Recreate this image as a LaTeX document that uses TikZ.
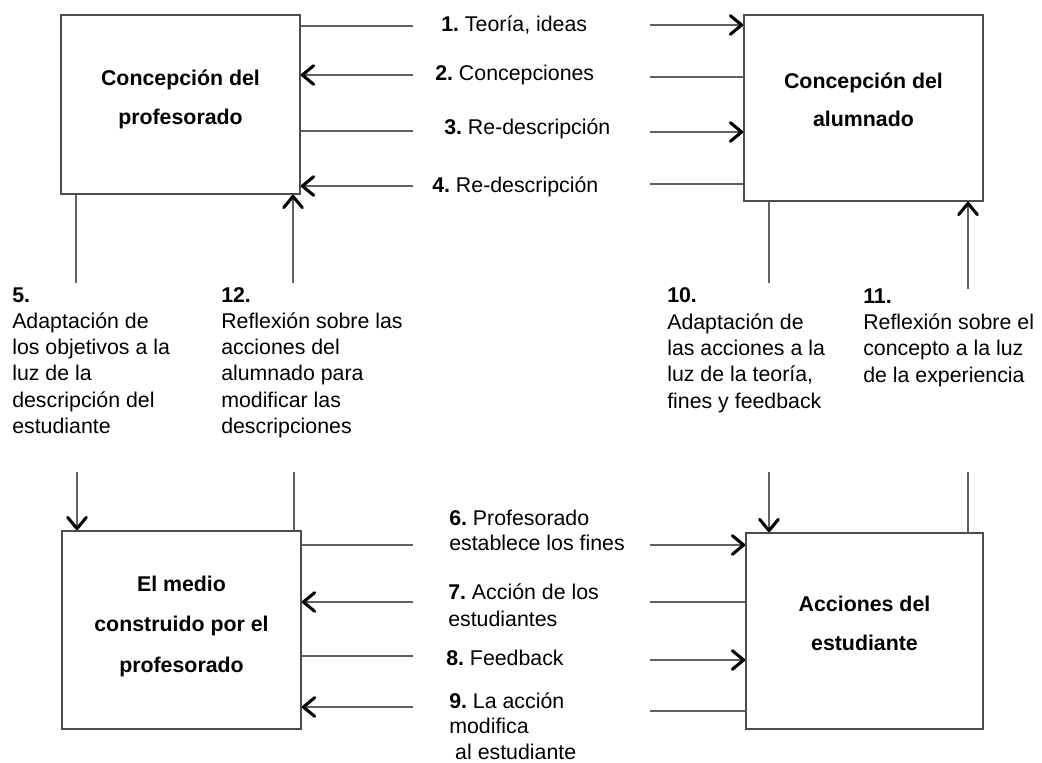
\documentclass[tikz,border=0pt]{standalone}
\usepackage{fontspec}
\setmainfont{Liberation Sans}
\frenchspacing
\usetikzlibrary{arrows.meta}
\definecolor{boxline}{gray}{0.30}
\definecolor{connline}{gray}{0.38}
\tikzset{
  stage/.style={draw=boxline, line width=1.2pt, fill=white, inner sep=0pt},
  stagetext/.style={font=\bfseries\fontsize{16}{29}\selectfont, align=center, anchor=base, inner sep=0pt},
  lbl/.style={font=\fontsize{16}{19.7}\selectfont, align=left, anchor=base west, inner sep=0pt},
  conn/.style={draw=connline, line width=1pt},
  flow/.style={conn, -{Straight Barb[length=8.5pt, width=14pt, line width=2.3pt, line cap=round, line join=round, color=black]}}
}
\begin{document}
\begin{tikzpicture}[x=0.75pt, y=-0.75pt]
\useasboundingbox[fill=white] (0,0) rectangle (1042,763);

% the four stages
\node[stage, minimum width=179.25pt, minimum height=134.25pt] (tl) at (180.5,104.5) {};
\node[stage, minimum width=179.25pt, minimum height=139.5pt] (tr) at (863.5,108) {};
\node[stage, minimum width=179.25pt, minimum height=148.5pt] (bl) at (181.5,630) {};
\node[stage, minimum width=177.75pt, minimum height=147pt] (br) at (864.5,631) {};

% stage titles (placed by the baseline of their last line)
\node[stagetext] (tlt) at (180.5,124.5) {Concepción del\\profesorado};
\node[stagetext] (trt) at (863.5,127) {Concepción del\\alumnado};
\node[stagetext, font=\bfseries\fontsize{16}{30.3}\selectfont] (blt) at (181.5,672) {El medio\\construido por el\\profesorado};
\node[stagetext] (brt) at (864.5,650.5) {Acciones del\\estudiante};

% free ends of the horizontal connectors
\coordinate (h1a) at (413,26);  \coordinate (h1b) at (650,25);
\coordinate (h2a) at (413,75);  \coordinate (h2b) at (650,77);
\coordinate (h3a) at (413,131); \coordinate (h3b) at (650,132);
\coordinate (h4a) at (413,186); \coordinate (h4b) at (650,184);
\coordinate (h6a) at (413,545); \coordinate (h6b) at (650,545);
\coordinate (h7a) at (413,602); \coordinate (h7b) at (650,602);
\coordinate (h8a) at (413,656); \coordinate (h8b) at (650,660);
\coordinate (h9a) at (413,707); \coordinate (h9b) at (650,711);

% free ends of the vertical connectors
\coordinate (v5a) at (76,283);   \coordinate (v5b) at (77,472);
\coordinate (v12a) at (293,283); \coordinate (v12b) at (294,472);
\coordinate (v10a) at (769,283); \coordinate (v10b) at (769,472);
\coordinate (v11a) at (968,289); \coordinate (v11b) at (968,472);

% upper exchanges
\draw[conn] (tl.east |- h1a) -- (h1a);
\draw[flow] (h1b) -- (tr.west |- h1b);
\draw[flow] (h2a) -- (tl.east |- h2a);
\draw[conn] (tr.west |- h2b) -- (h2b);
\draw[conn] (tl.east |- h3a) -- (h3a);
\draw[flow] (h3b) -- (tr.west |- h3b);
\draw[flow] (h4a) -- (tl.east |- h4a);
\draw[conn] (tr.west |- h4b) -- (h4b);

% lower exchanges
\draw[conn] (bl.east |- h6a) -- (h6a);
\draw[flow] (h6b) -- (br.west |- h6b);
\draw[flow] (h7a) -- (bl.east |- h7a);
\draw[conn] (br.west |- h7b) -- (h7b);
\draw[conn] (bl.east |- h8a) -- (h8a);
\draw[flow] (h8b) -- (br.west |- h8b);
\draw[flow] (h9a) -- (bl.east |- h9a);
\draw[conn] (br.west |- h9b) -- (h9b);

% vertical links
\draw[conn] (tl.south -| v5a) -- (v5a);
\draw[flow] (v5b) -- (bl.north -| v5b);
\draw[flow] (v12a) -- (tl.south -| v12a);
\draw[conn] (v12b) -- (bl.north -| v12b);
\draw[conn] (tr.south -| v10a) -- (v10a);
\draw[flow] (v10b) -- (br.north -| v10b);
\draw[flow] (v11a) -- (tr.south -| v11a);
\draw[conn] (v11b) -- (br.north -| v11b);

% labels of the horizontal links (anchored at the baseline of the last line)
\node[lbl] (l1) at (441,32) {\textbf{1.} Teoría, ideas};
\node[lbl] (l2) at (435,81) {\textbf{2.} Concepciones};
\node[lbl] (l3) at (444,135) {\textbf{3.} Re-descripción};
\node[lbl] (l4) at (432,192) {\textbf{4.} Re-descripción};
\node[lbl, font=\fontsize{16}{18.75}\selectfont] (l6) at (449,550) {\textbf{6.} Profesorado\\establece los fines};
\node[lbl] (l7) at (448,626) {\textbf{7.} Acción de los\\estudiantes};
\node[lbl] (l8) at (446,665) {\textbf{8.} Feedback};
\node[lbl, font=\fontsize{16}{19}\selectfont] (l9) at (449,759) {\textbf{9.} La acción\\modifica\\\hspace{0.28em}al estudiante};

% labels of the vertical links
\node[lbl] (l5) at (12,433.5) {\textbf{5.}\\Adaptación de\\los objetivos a la\\luz de la\\descripción del\\estudiante};
\node[lbl] (l12) at (221,433.5) {\textbf{12.}\\Reflexión sobre las\\acciones del\\alumnado para\\modificar las\\descripciones};
\node[lbl] (l10) at (667,408) {\textbf{10.}\\Adaptación de\\las acciones a la\\luz de la teoría,\\fines y feedback};
\node[lbl] (l11) at (863,382) {\textbf{11.}\\Reflexión sobre el\\concepto a la luz\\de la experiencia};
\end{tikzpicture}
\end{document}
